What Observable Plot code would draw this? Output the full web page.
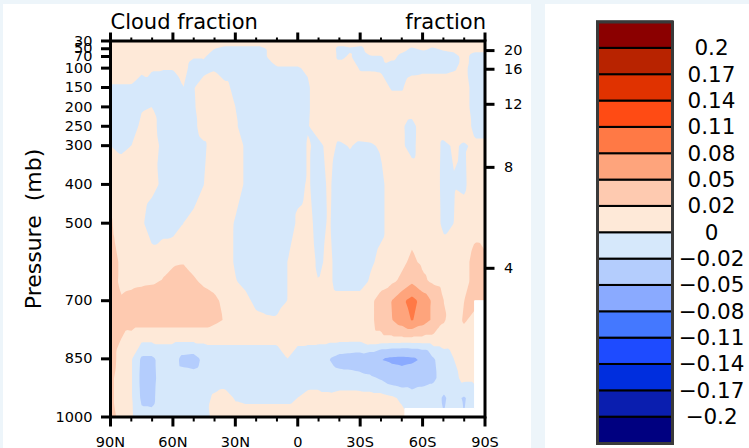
<!DOCTYPE html>
<html>
<head>
<meta charset="utf-8">
<script src="https://cdn.jsdelivr.net/npm/d3@7"></script>
<script src="https://cdn.jsdelivr.net/npm/@observablehq/plot@0.6"></script>
<style>
  html, body { margin: 0; padding: 0; width: 749px; height: 448px; overflow: hidden; background: #edf5fa; }
  .panel { position: absolute; background: #fff; }
  #mainPanel { left: 3px; top: 4px; width: 528px; height: 444px; }
  #sidePanel { left: 545px; top: 4px; width: 204px; height: 444px; }
  #chart { position: absolute; left: 0; top: 0; width: 540px; height: 448px; }
  #bar { position: absolute; left: 540px; top: 0; width: 209px; height: 448px; }
</style>
</head>
<body>
<div class="panel" id="mainPanel"></div>
<div class="panel" id="sidePanel"></div>
<div id="chart"></div>
<div id="bar"></div>
<script>
// Latitudes of the zonal-mean grid, north to south
const lats = [90, 85, 80, 75, 70, 65, 60, 55, 50, 45, 40, 35, 30, 25, 20, 15, 10, 5, 0,
  -5, -10, -15, -20, -25, -30, -35, -40, -45, -50, -55, -60, -65, -70, -75, -80, -85, -90];

// Cloud fraction difference on each pressure level (one value per latitude above)
const dcf30 = [.01, .01, .01, .01, .01, .01, .01, .01, .01, .01, .01, .01, .01, .01, .01, .01, .01, .01, .01, .01,
  .01, .01, .01, .01, .01, .01, .01, .01, .01, .01, .01, .01, .01, .01, .01, .01, .01];
const dcf50 = [.01, .01, .01, .01, .01, .01, .01, .01, .01, .01, 0, -.005, -.005, -.005, -.005, 0, .01, .01, .01, .01,
  .01, .01, -.005, -.002, -.005, .01, .01, .01, .005, -.002, .003, -.002, .003, .005, .01, .005, .005];
const dcf70 = [.01, .01, .01, .01, .01, .01, .01, .01, .002, .002, -.01, -.01, -.01, -.01, -.01, 0, .006, .006, .006, .01,
  .01, .01, -.004, .002, -.01, -.001, -.001, .005, -.004, -.01, -.01, -.01, -.01, -.006, .005, -.006, -.006];
const dcf100 = [.01, .01, .01, .005, .001, .001, .001, .008, -.01, -.006, -.002, -.01, -.01, -.01, -.01, -.006, -.001, -.001, -.001, .002,
  .01, .01, .01, .01, -.002, -.002, -.003, -.01, -.01, -.006, -.004, -.004, -.004, -.002, .005, -.01, -.01];
const dcf150 = [-.002, -.002, -.002, -.01, -.005, -.01, -.01, 0, -.001, .01, .01, .005, -.005, -.01, -.01, -.01, -.01, -.01, -.01, -.002,
  .01, .01, .01, .01, .01, .01, .01, -.002, -.002, .01, .01, .01, .01, .01, .01, -.01, -.01];
const dcf200 = [-.01, -.01, -.01, -.002, 0, -.01, -.01, -.006, -.002, .01, .01, .01, 0, -.01, -.01, -.01, -.01, -.01, -.01, -.002,
  .01, .01, .01, .01, .01, .01, .01, .01, .01, .01, .01, .01, .01, .01, .01, -.01, -.01];
const dcf250 = [-.01, -.01, -.01, .005, .008, -.01, -.01, -.01, -.005, .01, .01, .01, .003, -.01, -.01, -.01, -.01, -.01, -.01, -.001,
  .01, .01, .01, .01, .01, .01, .01, .01, .002, -.006, .01, .01, .01, .01, .01, -.005, -.005];
const dcf300 = [0, -.003, 0, .01, .01, -.005, -.01, -.01, -.01, -.003, .01, .01, .01, -.003, -.01, -.01, -.01, -.01, -.01, .002,
  -.005, .006, -.003, .001, -.003, -.002, .002, .01, .002, -.005, .01, .01, -.004, .002, -.002, .003, .003];
const dcf400 = [.012, .01, .01, .01, .005, -.003, -.01, 0, -.005, 0, .01, .01, .01, -.003, -.01, -.01, -.01, -.01, -.005, .002,
  -.008, .003, -.01, -.01, -.01, -.01, -.005, .01, .01, .01, .01, .01, -.005, -.001, -.003, .01, .01];
const dcf500 = [.022, .012, .01, .003, -.01, -.01, -.01, 0, .003, .01, .01, .01, -.002, -.01, -.01, -.01, -.01, -.01, .003, .005,
  -.006, .002, -.01, -.01, -.01, -.01, -.005, .01, .01, .01, .01, .01, -.004, 0, .008, .015, .015];
const dcf600 = [.035, .015, .012, .012, .008, .015, .018, .019, .015, .012, .01, .008, -.002, -.01, -.01, -.01, -.01, 0, .01, .01,
  -.004, .005, -.01, -.01, -.01, -.003, .005, .01, .015, .025, .015, .01, .01, .01, .015, .025, .022];
const dcf650 = [.032, .015, .016, .017, .018, .021, .025, .028, .022, .017, .013, .008, .001, -.005, -.01, -.01, -.01, 0, .01, .01,
  0, .005, -.01, -.01, -.01, .003, .01, .015, .025, .045, .025, .015, .01, .01, .015, .025, .025];
const dcf700 = [.035, .022, .025, .028, .03, .03, .033, .033, .03, .027, .024, .015, .01, .005, -.005, -.008, -.006, 0, .01, .01,
  .01, .01, .01, .01, .01, .015, .03, .05, .075, .09, .07, .045, .02, .015, .02, .025, .02];
const dcf750 = [.035, .028, .03, .03, .03, .03, .03, .03, .03, .03, .025, .0185, .01, .008, .005, .003, .002, .01, .01, .01,
  .01, .01, .01, .01, .01, .015, .03, .048, .065, .082, .065, .045, .022, .012, .022, .015, .015];
const dcf800 = [.03, .02, .012, .004, .004, .004, .004, .004, .004, .004, .004, .004, .004, .004, .004, .004, .004, .012, .004, .004,
  .004, .004, .004, .004, .004, .012, .012, .012, .012, .012, .012, .012, .012, .01, .012, .01, .01];
const dcf850 = [.03, .012, .002, -.024, -.024, -.012, -.012, -.026, -.028, -.015, -.01, -.01, -.01, -.01, -.01, -.01, -.01, 0, -.008, -.01,
  -.012, -.02, -.028, -.03, -.032, -.038, -.051, -.056, -.058, -.055, -.048, -.022, -.012, 0, .008, .005, .005];
const dcf900 = [.025, .01, .002, -.026, -.025, -.012, -.01, -.012, -.013, -.01, -.01, -.01, -.01, -.01, -.01, -.01, -.01, -.008, -.006, -.006,
  -.006, -.01, -.012, -.012, -.014, -.016, -.022, -.032, -.036, -.034, -.028, -.024, -.012, -.005, .005, .005, .005];
const dcf950 = [.025, .01, .002, -.024, -.024, -.01, -.01, -.01, -.01, -.006, .003, .008, -.002, -.004, -.004, -.004, -.004, -.004, 0, .004,
  .004, .004, .007, .007, .007, .007, .007, .003, -.003, -.01, -.01, -.01, -.022, -.015, -.022, -.01, -.01];
const dcf1000 = [.032, .01, .003, -.015, -.016, -.01, -.01, -.01, -.01, -.01, .008, .008, .008, .008, .008, .008, .008, .008, .008, .01,
  .01, .01, .01, .01, .01, .01, .01, .01, .005, -.01, -.01, -.01, -.02, -.01, -.02, -.01, -.01];

const levelRows = [
  [1000, dcf1000], [950, dcf950], [900, dcf900], [850, dcf850], [800, dcf800], [750, dcf750],
  [700, dcf700], [650, dcf650], [600, dcf600], [500, dcf500], [400, dcf400], [300, dcf300],
  [250, dcf250], [200, dcf200], [150, dcf150], [100, dcf100], [70, dcf70], [50, dcf50], [30, dcf30]
];

// Contour levels and their fill colours (lowest band first)
const bounds = [-0.2, -0.17, -0.14, -0.11, -0.08, -0.05, -0.02, 0, 0.02, 0.05, 0.08, 0.11, 0.14, 0.17, 0.2];
const shades = ["#000080", "#0a1eaf", "#002ede", "#1e4bff", "#4478ff", "#8aaaff", "#b4cdfd", "#d6e8fb",
  "#fee9d8", "#fecab0", "#fea47c", "#ff7945", "#ff4b14", "#e03200", "#b82300", "#8b0000"];

// Outline of the ground below the lowest valid level (Antarctica)
const groundLat = [-51.5, -51.5, -85, -85, -90, -90];
const groundP = [1000, 978, 978, 700, 700, 1000];

// Axis ticks
const pressureTicks = [1000, 850, 700, 500, 400, 300, 250, 200, 150, 100, 70, 50, 30];
const latTicks = [90, 60, 30, 0, -30, -60, -90];
const latMinor = [80, 70, 50, 40, 20, 10, -10, -20, -40, -50, -70, -80];
const heightKm = [4, 8, 12, 16, 20];

// US standard atmosphere: pressure (mb) at a height in km
function stdPressure(km) {
  const h = km * 1000;
  if (h <= 11000) return 1013.25 * Math.pow(1 - 0.0065 * h / 288.15, 5.25588);
  return 226.32 * Math.exp(-9.80665 * 0.0289644 * (h - 11000) / (8.31447 * 216.65));
}
const heightP = heightKm.map(stdPressure);

const grid = levelRows.flatMap(([p, vals]) => vals.map((v, i) => ({lat: lats[i], p, v})));
const ground = groundLat.map((lat, i) => ({lat, p: groundP[i]}));
const latLabel = (d) => d === 0 ? "0" : Math.abs(d) + (d > 0 ? "N" : "S");
const levelLabel = (d) => d === 0 ? "0" : (d < 0 ? "\u2212" : "") + String(Math.abs(d));

const font = "DejaVu Sans";

const chart = Plot.plot({
  width: 540,
  height: 448,
  marginLeft: 110,
  marginRight: 55.5,
  marginTop: 40.5,
  marginBottom: 31.5,
  style: {background: "transparent", fontFamily: font, fontSize: "14.5px", color: "#000"},
  x: {domain: [90, -90]},
  y: {domain: [1000, 30]},
  color: {type: "threshold", domain: bounds, range: shades},
  marks: [
    Plot.contour(grid, {x: "lat", y: "p", fill: "v", interpolate: "barycentric", thresholds: bounds, stroke: "none"}),
    Plot.line(ground, {x: "lat", y: "p", fill: "white", stroke: "white", strokeWidth: 1}),
    Plot.frame({stroke: "#000", strokeWidth: 3}),
    Plot.axisX({anchor: "bottom", ticks: latTicks, tickFormat: latLabel, tickSize: 10, tickPadding: 10, strokeWidth: 3, label: null, fontSize: 14.5}),
    Plot.axisX({anchor: "bottom", ticks: latMinor, tickFormat: () => "", tickSize: 5, strokeWidth: 2, label: null}),
    Plot.axisX({anchor: "top", ticks: latTicks, tickFormat: () => "", tickSize: 9, strokeWidth: 3, label: null}),
    Plot.axisX({anchor: "top", ticks: latMinor, tickFormat: () => "", tickSize: 4, strokeWidth: 2, label: null}),
    Plot.axisY({anchor: "left", ticks: pressureTicks, tickFormat: (d) => String(d), tickSize: 9, tickPadding: 9, strokeWidth: 3, label: null, fontSize: 14.5}),
    Plot.axisY({anchor: "right", ticks: heightP, tickFormat: (p) => String(heightKm[heightP.indexOf(p)]), tickSize: 9, tickPadding: 10, strokeWidth: 3, label: null, fontSize: 14.5}),
    Plot.text(["Cloud fraction"], {frameAnchor: "top-left", textAnchor: "start", lineAnchor: "bottom", dy: -12.5, fontSize: 21}),
    Plot.text(["fraction"], {frameAnchor: "top-right", textAnchor: "end", lineAnchor: "bottom", dy: -12.5, dx: 1, fontSize: 21}),
    Plot.text(["Pressure\u00a0\u00a0(mb)"], {frameAnchor: "left", textAnchor: "middle", dx: -77, rotate: -90, fontSize: 22})
  ]
});
document.getElementById("chart").append(chart);

// Colour bar: one box per band, labels on the band edges
const bar = Plot.plot({
  width: 209,
  height: 448,
  marginLeft: 57,
  marginRight: 77,
  marginTop: 21.5,
  marginBottom: 5,
  style: {background: "transparent", fontFamily: font, color: "#000"},
  x: {domain: [0, 1], axis: null},
  y: {domain: [0, shades.length], axis: null},
  color: {type: "identity"},
  marks: [
    Plot.rect(shades, {x1: 0, x2: 1, y1: (d, i) => i, y2: (d, i) => i + 1, fill: (d) => d, stroke: "#000", strokeWidth: 2}),
    Plot.frame({stroke: "#3a3a3a", strokeWidth: 3}),
    Plot.text(bounds, {y: (d, i) => i + 1, frameAnchor: "right", textAnchor: "middle", dx: 39, text: levelLabel, fontSize: 21.5})
  ]
});
document.getElementById("bar").append(bar);
</script>
</body>
</html>
